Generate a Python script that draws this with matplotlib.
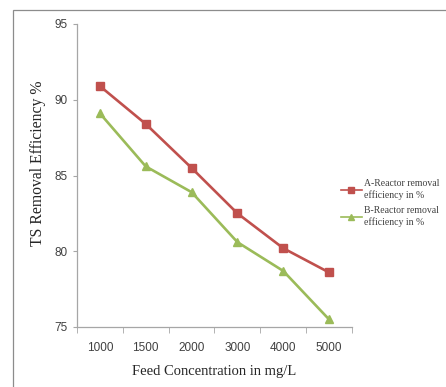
import matplotlib
matplotlib.use('Agg')
from matplotlib import pyplot as plt
from matplotlib.patches import Rectangle

# 进料浓度 (类别)
feed = ['1000', '1500', '2000', '3000', '4000', '5000']
# A 反应器去除率
reactor_a = [90.9, 88.4, 85.5, 82.5, 80.2, 78.6]
# B 反应器去除率
reactor_b = [89.1, 85.6, 83.9, 80.6, 78.7, 75.5]
labels = ['A-Reactor removal\nefficiency in %', 'B-Reactor removal\nefficiency in %']

fig = plt.figure(figsize=(4.46, 3.87), dpi=100)
# 外框
fig.patches.append(Rectangle((13 / 446, -0.05), 1.0, (387 - 10) / 387 + 0.05,
                             transform=fig.transFigure, fill=False,
                             edgecolor='#8c8c8c', linewidth=0.9))

ax = fig.add_axes([77 / 446, 60 / 387, 275 / 446, 303 / 387])
x = list(range(len(feed)))
ax.plot(x, reactor_a, color='#C0504D', marker='s', markersize=5.5,
        linewidth=1.9, label=labels[0])
ax.plot(x, reactor_b, color='#9BBB59', marker='^', markersize=5.5,
        linewidth=1.9, label=labels[1])

ax.set_xlim(-0.5, len(feed) - 0.5)
ax.set_ylim(75, 95)
ax.set_yticks([75, 80, 85, 90, 95])
ax.set_xticks(x)
ax.set_xticklabels(feed)
ax.set_xticks([i - 0.5 for i in range(len(feed) + 1)], minor=True)
ax.tick_params(axis='x', which='major', length=0, pad=11)
ax.tick_params(axis='x', which='minor', length=4, color='#a6a6a6', direction='out')
ax.tick_params(axis='y', length=3, color='#a6a6a6', direction='out', pad=4)
for lab in ax.get_xticklabels() + ax.get_yticklabels():
    lab.set_fontfamily('Liberation Sans')
    lab.set_fontsize(8.5)
    lab.set_color('#404040')

for s in ['top', 'right']:
    ax.spines[s].set_visible(False)
for s in ['left', 'bottom']:
    ax.spines[s].set_color('#a6a6a6')
    ax.spines[s].set_linewidth(0.9)

ax.set_xlabel('Feed Concentration in mg/L', fontfamily='Liberation Serif',
              fontsize=10.5, color='#262626', labelpad=8)
ax.set_ylabel('TS Removal Efficiency %', fontfamily='Liberation Serif',
              fontsize=11.3, color='#262626', va='center')
ax.yaxis.set_label_coords(-0.142, 0.54)

leg = fig.legend(loc='center left', bbox_to_anchor=(332 / 446, 1 - 203 / 387),
                 frameon=False, handlelength=2.2, handletextpad=0.2,
                 labelspacing=0.7, markerscale=0.7,
                 prop={'family': 'Liberation Serif', 'size': 7})
for t in leg.get_texts():
    t.set_color('#404040')
for h in leg.legend_handles:
    h.set_linewidth(1.2)

fig.savefig('out.png', dpi=100)
